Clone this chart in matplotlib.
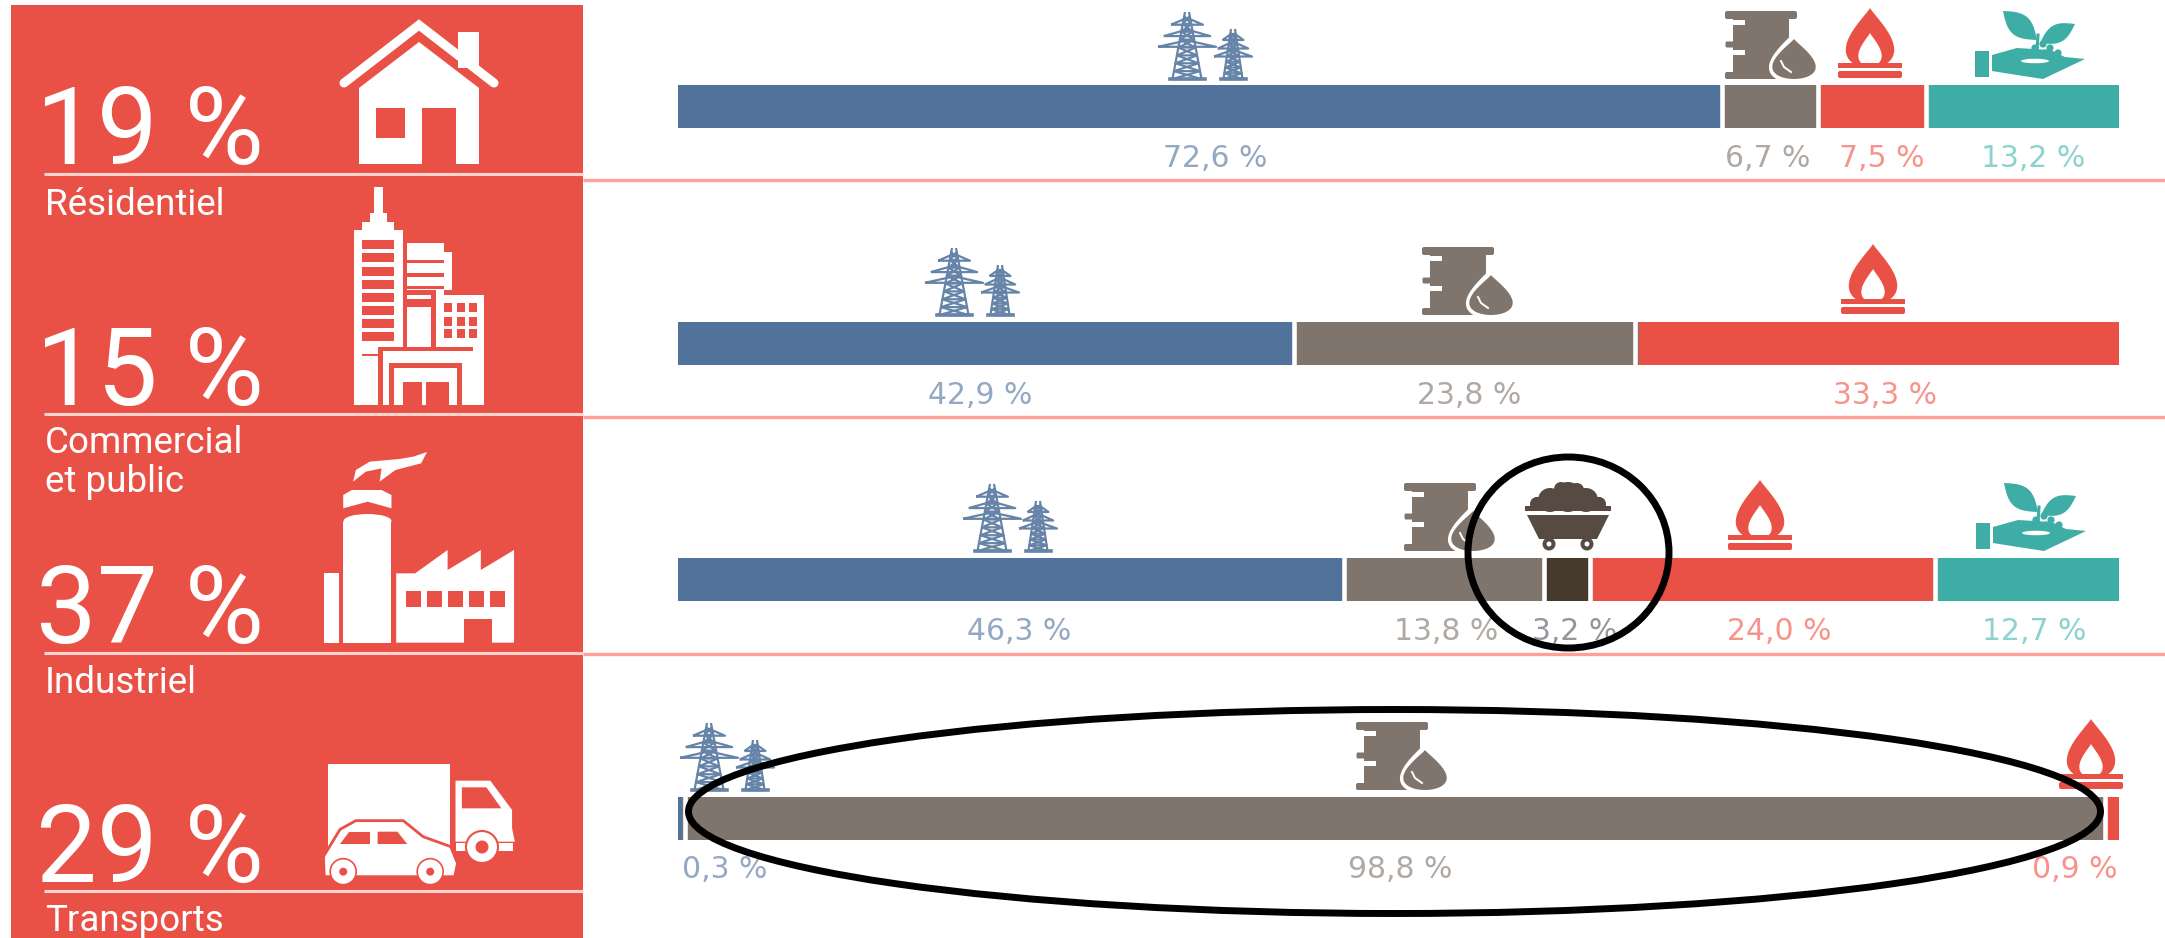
import numpy as np
import matplotlib
matplotlib.use('Agg')
import matplotlib.pyplot as plt
from matplotlib.patches import Rectangle, Polygon, Circle, Ellipse, FancyBboxPatch

sectors = ['Résidentiel', 'Commercial\net public', 'Industriel', 'Transports']
shares = ['19 %', '15 %', '37 %', '29 %']

electricity = [72.6, 42.9, 46.3, 0.3]
oil = [6.7, 23.8, 13.8, 98.8]
coal = [0, 0, 3.2, 0]
gas = [7.5, 33.3, 24.0, 0.9]
biomass = [13.2, 0, 12.7, 0]

W, H = 2165, 938
RED = '#EA5146'
BLUE = '#51729B'
PYLON = '#6684A8'
BROWN = '#80756D'
DARK = '#46392D'
COAL_ICON = '#574A42'
TEAL = '#3DADA5'
PINK = '#FF9F99'

series = [(electricity, BLUE, '#93A8C2'), (oil, BROWN, '#B0A9A3'), (coal, DARK, '#94969C'),
          (gas, RED, '#F7938B'), (biomass, TEAL, '#8CD3CD')]

# layout, in pixels of the picture
bar_y = [107, 343.5, 579.5, 818.5]
bar_h = 43
x0, x1 = 678, 2119
gap_shift = [[-1.7, -2.3, -2.9], [-2, -4], [-1, -.5, 0, -.5], [2.7, -1.5]]
label_dx = [[14, -5, 7, 9], [-7, 1, 6], [8, 2, 8, 16, 7], [45, 6, -38]]

fig = plt.figure(figsize=(W / 100, H / 100), dpi=100, facecolor='white')

ax = fig.add_axes([x0 / W, 0, (x1 - x0) / W, 1])
ax.set_xlim(0, 100)
ax.set_ylim(H, 0)
ax.axis('off')

art = fig.add_axes([0, 0, 1, 1], zorder=3)
art.set_xlim(0, W)
art.set_ylim(H, 0)
art.axis('off')
art.patch.set_alpha(0)

sx = (x1 - x0) / 100
for i, y in enumerate(bar_y):
    left = 0
    edges = []
    k = 0
    for vals, col, tcol in series:
        v = vals[i]
        if v == 0:
            continue
        ax.barh(y, v, left=left, height=bar_h, color=col, linewidth=0)
        cx = x0 + (left + v / 2) * sx + label_dx[i][k]
        txt = f'{v:.1f} %'.replace('.', ',')
        art.text(cx, y + 60, txt, color=tcol, fontsize=21.5, ha='center', va='baseline',
                 family='DejaVu Sans')
        left += v
        edges.append(left)
        k += 1
    for e, s in zip(edges[:-1], gap_shift[i]):
        ax.vlines(e + s / sx, y - bar_h, y + bar_h, color='white', lw=3.3, zorder=4)


def add(p):
    art.add_patch(p)
    return p


def rect(a, b, c, d, col='white'):
    add(Rectangle((a, b), c - a, d - b, fc=col, ec='none'))


def poly(pts, col='white', **kw):
    add(Polygon(pts, closed=True, fc=col, ec=kw.get('ec', 'none'), lw=kw.get('lw', 0)))


def z1(pts):
    return np.array(pts, float) / [2.529, 3]


def z2(pts):
    return np.array(pts, float) / [2.529, 3] + [0, 460]


def urect(a, b, c, d, col='white', z=z1):
    (p, q) = z([(a, b), (c, d)])
    rect(p[0], p[1], q[0], q[1], col)


def drop(cx, top, hw, h, col, n=60):
    t = np.linspace(0, 2 * np.pi, n)
    x = hw * np.sin(t) * np.sin(t / 2) ** 1.3 * 1.15
    yy = h * (1 - np.cos(t)) / 2
    poly(np.c_[cx + x, top + yy], col)


def leaf(p, q, w, col):
    p, q = np.array(p, float), np.array(q, float)
    t = np.linspace(0, 1, 20)
    d = q - p
    nrm = np.array([-d[1], d[0]]) / np.hypot(*d)
    c = p + np.outer(t, d)
    up = c + np.outer(w * np.sin(np.pi * t), nrm)
    dn = c - np.outer(w * np.sin(np.pi * t), nrm)
    poly(np.r_[up, dn[::-1]], col)


# panel and rules
rect(11, 5, 583, H, RED)
for yy, py in zip([174.5, 414, 653, 891], [180, 417, 654, None]):
    art.plot([44, 583], [yy, yy], color='#FBD4D0', lw=2.2, solid_capstyle='butt')
    if py:
        art.plot([583, W], [py, py], color=PINK, lw=2.4, solid_capstyle='butt')

big_y = [164, 405, 643, 882]
name_y = [215, 453, 693, 931]
for s, n, by, ny in zip(shares, sectors, big_y, name_y):
    art.text(264, by, s, color='white', fontsize=78, ha='right', va='baseline', family='Roboto')
    art.text(45, ny, n.split('\n')[0], color='white', fontsize=26.5, family='Roboto', va='baseline')
    if '\n' in n:
        art.text(45, ny + 39, n.split('\n')[1], color='white', fontsize=26.5, family='Roboto', va='baseline')

# house
art.plot([344, 419, 494], [83, 25, 83], color='white', lw=6.5, solid_capstyle='round', solid_joinstyle='miter')
rect(458, 32, 479, 68)
poly([(359, 88), (419, 42), (479, 88), (479, 164), (359, 164)])
rect(376, 108, 405, 138, RED)
rect(422, 108, 456, 164, RED)

# city
for a, b, c, d in [(945, 560, 968, 640), (935, 640, 978, 665), (915, 665, 997, 690), (895, 690, 1018, 1215)]:
    urect(a, b, c, d)
for v in np.arange(718, 1030, 39.5):
    urect(915, v + 3, 997, v + 30, RED)
urect(915, 1062, 955, 1068, RED)
urect(915, 1095, 955, 1215, 'white')
urect(1030, 730, 1122, 1040)
urect(1122, 755, 1142, 870)
for v in [780, 820, 858]:
    urect(1030, v, 1122, v + 10, RED)
urect(1030, 870, 1103, 885, RED)
urect(1030, 897, 1090, 922, RED)
urect(1090, 885, 1103, 1040, RED)
urect(1103, 885, 1225, 1215)
for a in [1122, 1155, 1187]:
    for b in [910, 950, 988]:
        urect(a, b, a + 20, b + 27, RED)
urect(955, 1040, 1225, 1215)
urect(955, 1040, 1195, 1052, RED)
urect(955, 1040, 968, 1215, RED)
urect(968, 1052, 1185, 1215)
urect(985, 1090, 1168, 1215, RED)
urect(997, 1105, 1155, 1215)
urect(1018, 1145, 1135, 1215, RED)
urect(1068, 1145, 1078, 1215)

# factory
urect(820, 340, 857, 548, z=z2)
urect(868, 185, 990, 548, z=z2)
add(Ellipse((367.5, 521), 48, 14, fc='white', ec='none'))
poly(z2([(868, 145), (868, 105), (890, 90), (965, 90), (990, 105), (990, 145), (930, 125)]))
poly(z2([(893, 65), (900, 30), (935, 5), (1010, -3), (1045, -10), (1080, -24), (1065, 10),
         (1000, 30), (960, 65), (965, 25), (925, 35)]))
poly(z2([(1002, 548), (1002, 340), (1050, 340), (1132, 270), (1132, 330), (1216, 270), (1216, 330), (1300, 270), (1300, 548)]))
for a in range(1027, 1270, 53):
    urect(a, 393, a + 37, 440, RED, z2)
urect(1173, 478, 1245, 548, RED, z2)

# truck and car
urect(830, 912, 1137, 1165, z=z2)
poly(z2([(1152, 962), (1240, 962), (1295, 1050), (1295, 1105), (1302, 1145), (1152, 1145)]))
poly(z2([(1168, 982), (1230, 982), (1268, 1045), (1168, 1045)]), RED)
urect(1152, 1150, 1298, 1172, z=z2)
add(Circle((482, 847), 16, fc='white', ec=RED, lw=1.5))
add(Circle((482, 847), 6.5, fc=RED, ec='none'))
poly(z2([(820, 1250), (818, 1190), (860, 1108), (900, 1082), (1020, 1082), (1070, 1130), (1140, 1160), (1157, 1210), (1150, 1250)]), 'white', ec=RED, lw=2)
poly(z2([(882, 1115), (935, 1115), (935, 1152), (860, 1152)]), RED)
poly(z2([(955, 1115), (1005, 1115), (1030, 1152), (955, 1152)]), RED)
for u in [868, 1088]:
    p = z2([(u, 1235)])[0]
    add(Circle(p, 13, fc='white', ec=RED, lw=1.2))
    add(Circle(p, 4, fc=RED, ec='none'))


def pylon(cx, base, h, hw, col):
    ln = dict(color=col, lw=1.6, solid_capstyle='butt')
    legs = hw * .5
    art.plot([cx - 2, cx - legs, cx + legs, cx + 2], [base - h, base, base, base - h], **ln)
    art.plot([cx - legs - 3, cx + legs + 3], [base, base], color=col, lw=2.6)
    ys = np.linspace(base - h + 4, base, 9)
    for a, b in zip(ys[:-1], ys[1:]):
        wa = 2 + (legs - 2) * (a - base + h) / h
        wb = 2 + (legs - 2) * (b - base + h) / h
        art.plot([cx - wa, cx + wb, cx - wb, cx + wa], [a, b, b, a], **ln)
    for f, w in [(.10, .55), (.27, .8), (.43, 1)]:
        yy = base - h + f * h
        art.plot([cx - w * hw, cx - 2, cx + 2, cx + w * hw, cx - w * hw], [yy + 6, yy, yy, yy + 6, yy + 6], **ln)


def pylons(x, base):
    pylon(x + 30, base, 67, 29, PYLON)
    pylon(x + 76, base, 50, 19, PYLON)


def barrel(x, top):
    rect(x + 8, top, x + 64, top + 68, BROWN)
    add(FancyBboxPatch((x + 2, top + 2), 68, 4, boxstyle='round,pad=2', fc=BROWN, ec='none'))
    add(FancyBboxPatch((x + 2, top + 63), 50, 3, boxstyle='round,pad=2', fc=BROWN, ec='none'))
    rect(x, top + 9, x + 20, top + 14, 'white')
    rect(x, top + 39, x + 20, top + 44, 'white')
    add(FancyBboxPatch((x + 2, top + 32), 10, 3, boxstyle='round,pad=1.5', fc=BROWN, ec='none'))
    drop(x + 69, top + 21, 30, 51, 'white')
    drop(x + 69, top + 28, 26, 40, BROWN)
    art.plot([x + 56, x + 59, x + 66], [top + 50, top + 56, top + 61], color='white', lw=1.4)


def flame(cx, base):
    top = base - 71
    drop(cx, top, 29, 60, RED)
    drop(cx, top + 25, 14, 33, 'white')
    poly([(cx - 12, top + 59), (cx + 12, top + 59), (cx + 4, top + 52), (cx - 4, top + 52)], 'white')
    rect(cx - 32, top + 55, cx + 32, top + 60, RED)
    add(FancyBboxPatch((cx - 30, top + 65), 60, 3, boxstyle='round,pad=2', fc=RED, ec='none'))


def hand(x, top):
    rect(x, top + 40, x + 14, top + 66, TEAL)
    poly([(x + 17, top + 44), (x + 42, top + 37), (x + 75, top + 39), (x + 90, top + 46),
          (x + 110, top + 48), (x + 68, top + 68), (x + 42, top + 64), (x + 17, top + 60)], TEAL)
    add(Ellipse((x + 60, top + 50), 28, 4.5, fc='white', ec='none'))
    leaf((x + 62, top + 29), (x + 28, top + 0), 11, TEAL)
    leaf((x + 65, top + 32), (x + 100, top + 13), 9, TEAL)
    art.plot([x + 62, x + 63], [top + 40, top + 24], color=TEAL, lw=2.2)
    for a, b in [(60, 37), (68, 33), (75, 37), (83, 42), (70, 42), (78, 44), (62, 43)]:
        add(Circle((x + a, top + b), 3.6, fc=TEAL, ec='none'))


def cart(x, top):
    for a, b, r in [(43, 15, 15), (25, 18, 12), (61, 18, 12), (12, 22, 7), (74, 22, 7), (36, 7, 7), (52, 8, 7)]:
        add(Circle((x + a, top + b), r, fc=COAL_ICON, ec='none'))
    rect(x + 10, top + 15, x + 76, top + 27, COAL_ICON)
    rect(x, top + 24, x + 86, top + 29, COAL_ICON)
    poly([(x + 2, top + 33), (x + 84, top + 33), (x + 72, top + 57), (x + 14, top + 57)], COAL_ICON)
    for a in [24, 62]:
        add(Circle((x + a, top + 62), 6.5, fc=COAL_ICON, ec='none'))
        add(Circle((x + a, top + 62), 2.5, fc='white', ec='none'))


for x, b in [(1157, 79), (924, 315), (962, 551), (679, 790)]:
    pylons(x, b)
for x, t in [(1725, 11), (1422, 247), (1404, 483), (1356, 722)]:
    barrel(x, t)
for c, b in [(1870, 79), (1873, 315), (1760, 551), (2091, 790)]:
    flame(c, b)
for x, t in [(1975, 11), (1976, 483)]:
    hand(x, t)
cart(1525, 482)

# hand-drawn circles
add(Ellipse((1568.5, 552.5), 201, 191, fc='none', ec='black', lw=5, zorder=8))
add(Ellipse((1394.5, 811.5), 1412, 204, fc='none', ec='black', lw=5, zorder=8))

fig.savefig('out.png', dpi=100)
